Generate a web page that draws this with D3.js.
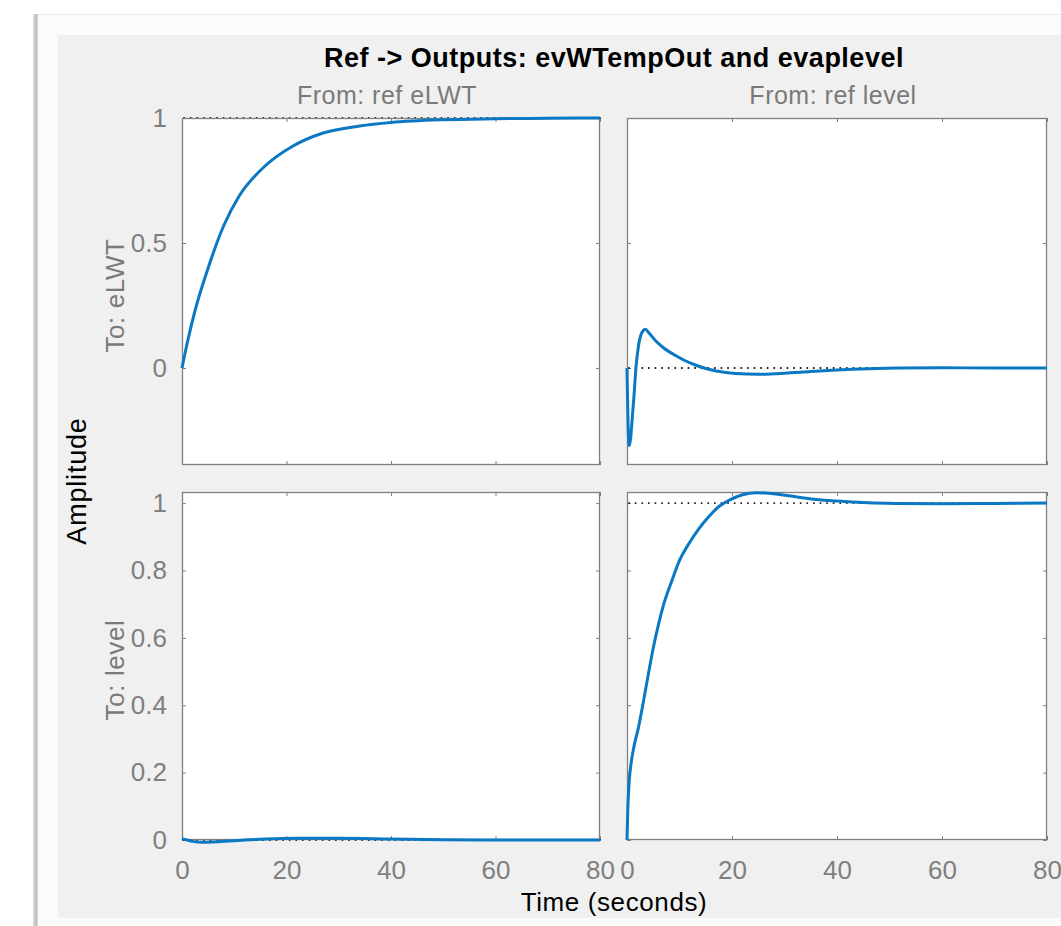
<!DOCTYPE html>
<html>
<head>
<meta charset="utf-8">
<script src="https://cdn.jsdelivr.net/npm/d3@7"></script>
<style>
  html, body { margin: 0; padding: 0; background: #fff; }
  svg { display: block; font-family: "Liberation Sans", Arial, Helvetica, sans-serif; }
  .tick line { stroke: #808080; }
  .tick text { fill: #7f7f7f; font-size: 26px; }
</style>
</head>
<body>
<svg id="chart" width="1061" height="926"></svg>
<script>
// step response samples (time in seconds)
const eLWTfromLWT_t = [0, 1, 2.5, 5, 8, 11, 16, 21, 27, 34, 40, 50, 60, 70, 80];
const eLWTfromLWT_y = [0, 0.10, 0.23, 0.40, 0.57, 0.69, 0.81, 0.885, 0.94, 0.968, 0.982, 0.993, 0.997, 0.999, 1.0];

const eLWTfromLevel_t = [0, 0.1, 0.25, 0.45, 0.7, 1.0, 1.3, 1.7, 2.2, 2.8, 3.5, 4.2, 5.4, 7, 9.25, 11, 13, 15, 17, 20.7, 25, 30, 35, 40, 46, 52, 60, 70, 80];
const eLWTfromLevel_y = [0, -0.12, -0.26, -0.31, -0.28, -0.20, -0.12, 0, 0.09, 0.14, 0.155, 0.14, 0.11, 0.08, 0.05, 0.03, 0.012, -0.002, -0.012, -0.022, -0.025, -0.021, -0.014, -0.008, -0.003, 0, 0.001, 0, 0];

const levelFromLWT_t = [0, 1, 2, 4, 6, 9, 12, 16, 22, 30, 40, 50, 60, 80];
const levelFromLWT_y = [0.004, 0.0, -0.004, -0.007, -0.006, -0.003, 0, 0.003, 0.005, 0.005, 0.003, 0.001, 0, 0];

const levelFromLevel_t = [0, 0.15, 0.4, 0.8, 1.3, 2.2, 3, 4.1, 5, 6, 7, 8.6, 10, 11.8, 13.5, 15.6, 17.5, 19.5, 22, 24.6, 27, 29.7, 33, 36, 40, 46, 52, 60, 70, 80];
const levelFromLevel_y = [0, 0.09, 0.17, 0.23, 0.275, 0.335, 0.40, 0.495, 0.57, 0.64, 0.70, 0.772, 0.83, 0.88, 0.92, 0.96, 0.99, 1.009, 1.025, 1.031, 1.029, 1.024, 1.017, 1.011, 1.006, 1.001, 0.999, 0.998, 0.999, 1.0];

// steady state (dotted) per panel, row-major
const steadyState = [1, 0, 0, 1];

const fromLabels = ["From: ref eLWT", "From: ref level"];
const toLabels = ["To: eLWT", "To: level"];
const title = "Ref -> Outputs: evWTempOut and evaplevel";

const xTicks = [0, 20, 40, 60, 80];
const yTicksTop = [0, 0.5, 1];
const yTicksBottom = [0, 0.2, 0.4, 0.6, 0.8, 1];
const xDomain = [0, 80];
const yDomainTop = [-0.388, 1];
const yDomainBottom = [0, 1.033];

const panels = [
  { row: 0, col: 0, t: eLWTfromLWT_t, y: eLWTfromLWT_y },
  { row: 0, col: 1, t: eLWTfromLevel_t, y: eLWTfromLevel_y },
  { row: 1, col: 0, t: levelFromLWT_t, y: levelFromLWT_y },
  { row: 1, col: 1, t: levelFromLevel_t, y: levelFromLevel_y }
];

const svg = d3.select("#chart");

// window frame + figure background
svg.append("rect").attr("x", 38).attr("y", 14).attr("width", 1023).attr("height", 912).attr("fill", "#fbfbfb");
svg.append("line").attr("x1", 38).attr("x2", 1061).attr("y1", 14.5).attr("y2", 14.5).attr("stroke", "#ebebeb");
svg.append("rect").attr("x", 33).attr("y", 14).attr("width", 5).attr("height", 912).attr("fill", "#d4d4d4");
svg.append("rect").attr("x", 35).attr("y", 14).attr("width", 2).attr("height", 912).attr("fill", "#c2c2c2");
svg.append("rect").attr("x", 58).attr("y", 35).attr("width", 1003).attr("height", 883).attr("fill", "#f0f0f0");

const colX = [[182, 600], [627, 1047]];
const rowY = [[118, 465], [492, 840]];

const line = d3.line().curve(d3.curveMonotoneX);

panels.forEach((p, i) => {
  const x = d3.scaleLinear().domain(xDomain).range(colX[p.col]);
  const y = d3.scaleLinear()
    .domain(p.row === 0 ? yDomainTop : yDomainBottom)
    .range([rowY[p.row][1], rowY[p.row][0]]);
  const yTicks = p.row === 0 ? yTicksTop : yTicksBottom;
  const [x0, x1] = x.range();
  const [y1, y0] = y.range();

  const g = svg.append("g");
  g.append("rect")
    .attr("x", x0).attr("y", y0)
    .attr("width", x1 - x0).attr("height", y1 - y0)
    .attr("fill", "#fff");

  // inward ticks on all four sides
  const fmt = d => String(d);
  g.append("g").attr("transform", `translate(0,${y1})`)
    .call(d3.axisBottom(x).tickValues(xTicks).tickSize(-4).tickPadding(21)
      .tickFormat(p.row === 1 ? fmt : ""));
  g.append("g").attr("transform", `translate(0,${y0})`)
    .call(d3.axisTop(x).tickValues(xTicks).tickSize(-4).tickFormat(""));
  g.append("g").attr("transform", `translate(${x0},0)`)
    .call(d3.axisLeft(y).tickValues(yTicks).tickSize(-4).tickPadding(15)
      .tickFormat(p.col === 0 ? fmt : ""));
  g.append("g").attr("transform", `translate(${x1},0)`)
    .call(d3.axisRight(y).tickValues(yTicks).tickSize(-4).tickFormat(""));
  g.selectAll(".domain").remove();
  g.selectAll(".tick text").attr("font-family", null).attr("font-size", null);

  // steady state dotted line
  g.append("line")
    .attr("x1", x0 + 2).attr("x2", x1)
    .attr("y1", y(steadyState[i])).attr("y2", y(steadyState[i]))
    .attr("stroke", "#111").attr("stroke-width", 1.9)
    .attr("stroke-linecap", "round")
    .attr("stroke-dasharray", "0.1,6.5");

  g.append("rect")
    .attr("x", x0 + 0.5).attr("y", y0 + 0.5)
    .attr("width", x1 - x0 - 1).attr("height", y1 - y0 - 1)
    .attr("fill", "none").attr("stroke", "#808080").attr("stroke-width", 1.3);

  g.append("path")
    .attr("d", line(p.t.map((t, k) => [x(t), y(p.y[k])])))
    .attr("fill", "none")
    .attr("stroke", "#0a78c2")
    .attr("stroke-width", 3)
    .attr("stroke-linejoin", "round");
});

// labels
svg.append("text").attr("x", 614).attr("y", 67)
  .attr("text-anchor", "middle").attr("font-weight", "bold").attr("font-size", 27)
  .attr("letter-spacing", 0.5).attr("fill", "#000").text(title);

fromLabels.forEach((s, c) => {
  svg.append("text").attr("x", (colX[c][0] + colX[c][1]) / 2 - 4).attr("y", 104)
    .attr("text-anchor", "middle").attr("font-size", 25).attr("letter-spacing", 0.5)
    .attr("fill", "#7a7a7a").text(s);
});
toLabels.forEach((s, r) => {
  svg.append("text")
    .attr("transform", `translate(124,${(rowY[r][0] + rowY[r][1]) / 2 + 4}) rotate(-90)`)
    .attr("text-anchor", "middle").attr("font-size", 26).attr("letter-spacing", 0.6)
    .attr("fill", "#7a7a7a").text(s);
});

svg.append("text").attr("transform", "translate(86,481) rotate(-90)")
  .attr("text-anchor", "middle").attr("font-size", 27).attr("letter-spacing", 0.8)
  .attr("fill", "#000").text("Amplitude");
svg.append("text").attr("x", 614).attr("y", 911)
  .attr("text-anchor", "middle").attr("font-size", 26).attr("letter-spacing", 0.6)
  .attr("fill", "#000").text("Time (seconds)");
</script>
</body>
</html>
